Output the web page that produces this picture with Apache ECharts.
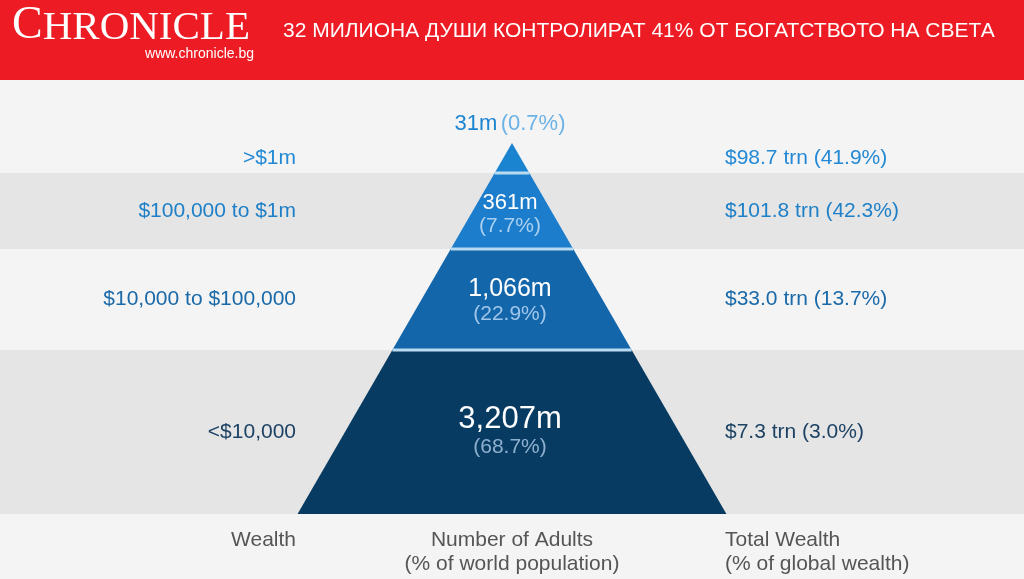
<!DOCTYPE html>
<html>
<head>
<meta charset="utf-8">
<script src="https://cdn.jsdelivr.net/npm/echarts@6/dist/echarts.min.js"></script>
<style>
  html, body { margin: 0; padding: 0; background: #f4f4f4; }
  #chart { width: 1024px; height: 579px; }
</style>
</head>
<body>
<div id="chart"></div>
<script>
// data, top tier first
const wealthBands = ['>$1m', '$100,000 to $1m', '$10,000 to $100,000', '<$10,000'];
const adultsMillions = [31, 361, 1066, 3207];
const adultsShare = [0.7, 7.7, 22.9, 68.7];
const wealthTrn = [98.7, 101.8, 33.0, 7.3];
const wealthShare = [41.9, 42.3, 13.7, 3.0];
const columnTitles = ['Wealth', 'Number of Adults\n(% of world population)', 'Total Wealth\n(% of global wealth)'];
const headline = '32 МИЛИОНА ДУШИ КОНТРОЛИРАТ 41% ОТ БОГАТСТВОТО НА СВЕТА';

// layout (axis units = page pixels)
const apexY = 143;
const tierEdges = [143, 173, 249, 350, 514];
const bandTops = [80, 173, 249, 350];
const slope = 0.578;
const labelGap = 216;

const tierColors = ['#1b84d1', '#1b7dcb', '#1466ab', '#083b62'];
const labelColors = ['#2389d5', '#1f80c8', '#1a69a9', '#1d4264'];
const shareColors = ['#6cb2e6', '#a9d0f0', '#9fc6ea', '#8eb0cf'];
const valueSizes = [22, 22, 25, 31];
const font = 'Arial, "Liberation Sans", Helvetica, sans-serif';

const fmtInt = v => v.toLocaleString('en-US');

const chart = echarts.init(document.getElementById('chart'));

function bandItem(params, api) {
  const i = params.dataIndex;
  const top = bandTops[i];
  const bottom = tierEdges[i + 1];
  const p0 = api.coord([-512, top]);
  const p1 = api.coord([512, bottom]);
  return {
    type: 'rect',
    shape: { x: p0[0], y: p0[1], width: p1[0] - p0[0], height: p1[1] - p0[1] },
    style: { fill: i % 2 === 1 ? '#e5e5e5' : '#f4f4f4' },
    silent: true
  };
}

function tierItem(params, api) {
  const i = params.dataIndex;
  const y0 = tierEdges[i], y1 = tierEdges[i + 1];
  const w0 = (y0 - apexY) * slope, w1 = (y1 - apexY) * slope;
  const pts = [[-w0, y0], [w0, y0], [w1, y1], [-w1, y1]].map(p => api.coord(p));
  const mid = (y0 + y1) / 2;
  const children = [{
    type: 'polygon',
    shape: { points: pts },
    style: { fill: tierColors[i] }
  }];
  if (i > 0) {
    children.push({
      type: 'line',
      shape: { x1: pts[0][0], y1: pts[0][1], x2: pts[1][0], y2: pts[1][1] },
      style: { stroke: '#b8dbf2', lineWidth: 3 }
    });
  }
  const left = api.coord([-labelGap, mid]);
  const right = api.coord([labelGap - 3, mid]);
  children.push({
    type: 'text',
    style: {
      text: wealthBands[i], x: left[0], y: left[1],
      align: 'right', verticalAlign: 'middle',
      fill: labelColors[i], fontSize: 21, fontFamily: font
    }
  });
  children.push({
    type: 'text',
    style: {
      text: '$' + wealthTrn[i].toFixed(1) + ' trn (' + wealthShare[i].toFixed(1) + '%)',
      x: right[0], y: right[1],
      align: 'left', verticalAlign: 'middle',
      fill: labelColors[i], fontSize: 21, fontFamily: font
    }
  });
  const adults = fmtInt(adultsMillions[i]) + 'm';
  const share = '(' + adultsShare[i].toFixed(1) + '%)';
  if (i === 0) {
    const c = api.coord([-2, apexY - 19]);
    children.push({
      type: 'text',
      style: {
        text: '{v|' + adults + '} {s|' + share + '}',
        x: c[0], y: c[1], align: 'center', verticalAlign: 'middle',
        rich: {
          v: { fill: tierColors[0], fontSize: 22, fontFamily: font },
          s: { fill: shareColors[0], fontSize: 22, fontFamily: font }
        }
      }
    });
  } else {
    const up = valueSizes[i] / 2 + 0.5;
    const cv = api.coord([-2, mid + 3 - up]);
    const cs = api.coord([-2, mid + 3 + 12]);
    children.push({
      type: 'text',
      style: {
        text: adults, x: cv[0], y: cv[1], align: 'center', verticalAlign: 'middle',
        fill: '#ffffff', fontSize: valueSizes[i], fontFamily: font
      }
    });
    children.push({
      type: 'text',
      style: {
        text: share, x: cs[0], y: cs[1], align: 'center', verticalAlign: 'middle',
        fill: shareColors[i], fontSize: 21, fontFamily: font
      }
    });
  }
  return { type: 'group', children: children };
}

function titleItem(params, api) {
  const i = params.dataIndex;
  const xs = [-labelGap, 0, labelGap - 3];
  const aligns = ['right', 'center', 'left'];
  const p = api.coord([xs[i], 539]);
  return {
    type: 'text',
    style: {
      text: columnTitles[i], x: p[0], y: p[1] - 11,
      align: aligns[i], verticalAlign: 'top', lineHeight: 24,
      fill: '#555555', fontSize: 21, fontFamily: font
    }
  };
}

chart.setOption({
  backgroundColor: '#f4f4f4',
  animation: false,
  grid: { left: 0, right: 0, top: 0, bottom: 0 },
  xAxis: { type: 'value', min: -512, max: 512, show: false },
  yAxis: { type: 'value', min: 0, max: 579, inverse: true, show: false },
  graphic: [
    { type: 'rect', shape: { x: 0, y: 0, width: 1024, height: 80 }, style: { fill: '#ed1c24' } },
    {
      type: 'text', left: 12, top: 3,
      style: {
        text: '{a|C}{b|HRONICLE}',
        rich: {
          a: { fontSize: 46, fontFamily: '"Liberation Serif", "DejaVu Serif", serif', fill: '#ffffff', verticalAlign: 'bottom' },
          b: { fontSize: 41, fontFamily: '"Liberation Serif", "DejaVu Serif", serif', fill: '#ffffff', verticalAlign: 'bottom' }
        }
      }
    },
    {
      type: 'text', right: 1024 - 254, top: 47,
      style: { text: 'www.chronicle.bg', fill: '#ffffff', fontSize: 14, fontFamily: font }
    },
    {
      type: 'text', left: 283, top: 21,
      style: { text: headline, fill: '#ffffff', fontSize: 21, fontFamily: font }
    }
  ],
  series: [
    { type: 'custom', renderItem: bandItem, data: wealthBands.map((b, i) => [i]), silent: true, z: 1 },
    { type: 'custom', renderItem: tierItem, data: adultsMillions.map((v, i) => [i, v]), silent: true, z: 2 },
    { type: 'custom', renderItem: titleItem, data: columnTitles.map((t, i) => [i]), silent: true, z: 2 }
  ]
});
</script>
</body>
</html>
